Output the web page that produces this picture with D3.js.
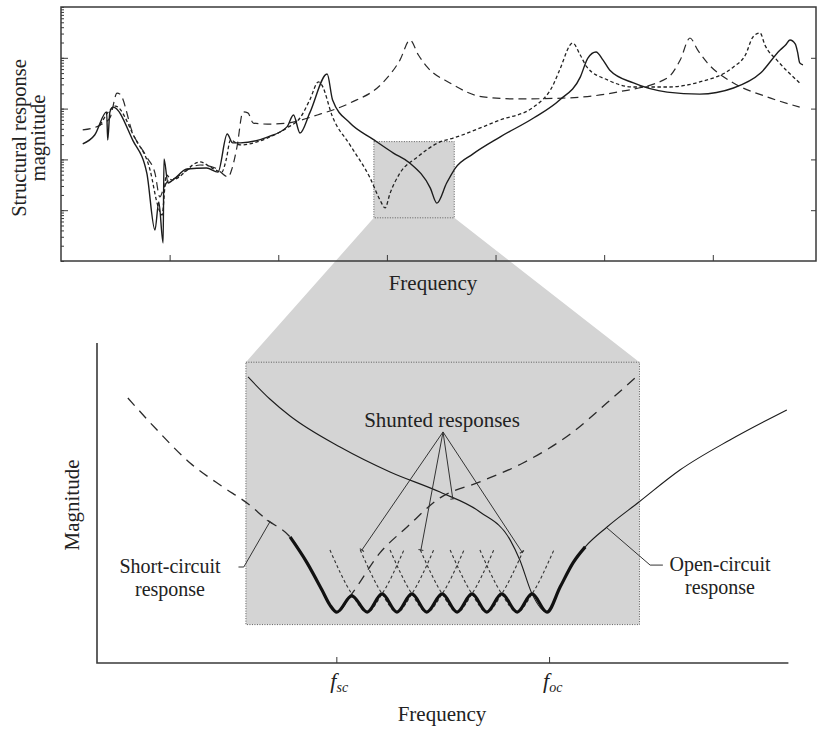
<!DOCTYPE html>
<html>
<head>
<meta charset="utf-8">
<script src="https://cdn.jsdelivr.net/npm/d3@7"></script>
<style>
  body { margin: 0; background: #fff; }
  svg { display: block; font-family: "Liberation Serif", "Times New Roman", serif; }
</style>
</head>
<body>
<svg id="chart" width="817" height="729"></svg>
<script>
// ---- top panel: measured responses, [frequency, magnitude dB] ----
const solidResponse = [
  [0.20,-13.9],[0.31,-10.4],[0.42,-1.3],[0.43,-12.4],[0.45,-1.3],[0.48,0.6],[0.66,-12.4],
  [0.79,-25.4],[0.865,-47.8],[0.90,-36.8],[0.94,-52.9],[0.948,-19.8],[0.985,-29.3],[1.03,-28.1],
  [1.16,-23.8],[1.34,-23.4],[1.445,-25.0],[1.53,-10.0],[1.58,-13.5],[1.65,-13.5],[1.90,-11.2],
  [2.08,-7.2],[2.14,-2.5],[2.20,-9.6],[2.29,-1.7],[2.45,13.6],[2.50,3.4],[2.66,-5.7],
  [2.87,-12.0],[3.06,-17.5],[3.21,-21.4],[3.40,-31.3],[3.46,-37.2],[3.55,-29.3],[3.63,-23.4],
  [3.79,-17.9],[4.04,-11.2],[4.35,-3.7],[4.59,3.4],[4.78,12.4],[4.85,19.9],[4.925,22.3],
  [4.99,19.1],[5.05,15.2],[5.27,10.1],[5.58,6.5],[5.88,5.7],[6.19,8.1],[6.44,14.0],
  [6.62,23.1],[6.67,25.0],[6.71,27.0],[6.76,25.4],[6.78,22.3],[6.80,18.0],[6.83,17.2]
];
const shortDashResponse = [
  [0.36,-6.5],[0.45,-0.6],[0.50,1.0],[0.68,-11.6],[0.82,-24.2],[0.89,-38.0],[0.93,-41.9],
  [0.97,-26.1],[1.02,-28.1],[1.28,-21.0],[1.39,-23.4],[1.48,-25.0],[1.52,-20.2],[1.56,-12.4],
  [1.65,-14.3],[1.90,-11.6],[2.08,-7.6],[2.20,-3.7],[2.29,3.4],[2.37,10.5],[2.40,9.3],
  [2.50,-3.3],[2.66,-14.3],[2.845,-27.3],[2.937,-36.0],[2.983,-39.1],[3.03,-33.2],[3.12,-25.4],
  [3.28,-19.1],[3.49,-13.1],[3.61,-11.6],[4.04,-4.5],[4.35,0.6],[4.53,9.3],[4.59,15.2],
  [4.71,25.8],[4.78,21.1],[4.84,16.4],[5.03,11.3],[5.27,8.5],[5.58,8.5],[5.88,10.5],
  [6.19,16.4],[6.30,21.1],[6.37,28.2],[6.435,29.8],[6.48,25.0],[6.59,19.1],[6.80,10.1]
];
const longDashResponse = [
  [0.20,-8.4],[0.36,-6.5],[0.45,-3.7],[0.516,6.1],[0.543,5.7],[0.66,-9.6],[0.79,-19.1],
  [0.865,-25.4],[0.91,-34.8],[0.94,-32.0],[0.976,-28.9],[1.05,-27.3],[1.28,-22.2],[1.42,-23.4],
  [1.54,-26.9],[1.57,-24.2],[1.62,-15.1],[1.675,-1.3],[1.72,-1.7],[1.77,-5.7],[1.90,-6.1],
  [2.08,-5.7],[2.36,-2.5],[2.66,2.2],[2.96,10.1],[3.12,19.1],[3.213,27.0],[3.29,21.1],
  [3.37,16.4],[3.58,10.1],[3.885,4.6],[4.20,3.8],[4.66,4.2],[5.12,6.5],[5.58,12.0],
  [5.70,19.1],[5.79,27.8],[5.86,23.1],[5.95,18.0],[6.19,10.1],[6.50,4.6],[6.80,0.6]
];
const topFreqTicks = [1, 2, 3, 4, 5, 6];
const topMajorTicks = [1e-2, 1e-1, 1, 10];
const zoomFreq = [2.88, 3.62];
const zoomDb = [-43, -13];

// ---- lower panel: schematic, [frequency, magnitude] ----
const shortCircuitResponse = [
  [2.658,8.28],[2.713,7.28],[2.775,6.25],[2.837,5.5],[2.882,5.0],[2.920,4.47],[2.963,3.94],
  [2.995,3.13],[3.023,2.28],[3.051,1.59],[3.079,2.16],[3.132,3.44],[3.183,4.25],[3.245,5.16],
  [3.320,5.66],[3.401,6.25],[3.495,7.22],[3.559,8.13],[3.612,8.91]
];
const openCircuitResponse = [
  [2.884,8.94],[2.925,8.25],[2.963,7.72],[3.057,6.75],[3.151,5.97],[3.245,5.34],[3.320,4.72],
  [3.377,3.84],[3.395,3.22],[3.418,2.16],[3.446,1.59],[3.471,2.38],[3.495,3.13],[3.518,3.63],
  [3.559,4.25],[3.619,5.03],[3.696,6.03],[3.790,6.97],[3.897,7.91]
];
const shuntedEnvelope = [
  [2.963,3.94],[2.995,3.13],[3.023,2.28],[3.038,1.81],[3.051,1.59],[3.079,2.1],[3.108,1.59],
  [3.136,2.16],[3.164,1.59],[3.192,2.16],[3.220,1.59],[3.249,2.16],[3.277,1.59],[3.305,2.16],
  [3.333,1.59],[3.361,2.16],[3.390,1.59],[3.418,2.16],[3.446,1.59],[3.471,2.38],[3.495,3.13],
  [3.518,3.63]
];
const shuntedResponses = [
  [[3.038,3.53],[3.079,2.16],[3.108,1.59],[3.136,2.16],[3.177,3.53]],
  [[3.095,3.53],[3.136,2.16],[3.164,1.59],[3.192,2.16],[3.233,3.53]],
  [[3.151,3.53],[3.192,2.16],[3.220,1.59],[3.249,2.16],[3.290,3.53]],
  [[3.208,3.53],[3.249,2.16],[3.277,1.59],[3.305,2.16],[3.346,3.53]],
  [[3.264,3.53],[3.305,2.16],[3.333,1.59],[3.361,2.16],[3.402,3.53]],
  [[3.320,3.53],[3.361,2.16],[3.390,1.59],[3.418,2.16],[3.459,3.53]]
];
const lowerTicks = [3.05, 3.45];
const lowerTickLabels = [["f", "sc"], ["f", "oc"]];
const lowerBoxMag = [1.2, 9.4];
// annotation leaders
const shuntedApex = [3.2506, 7.22];
const shuntedTargets = [[3.098,3.53],[3.209,3.53],[3.269,5.13],[3.399,3.47]];
const shortCircuitLeader = [[2.866,3.0],[2.876,3.0],[2.925,4.41]];
const openCircuitLeader = [[3.559,4.22],[3.640,3.06],[3.664,3.06]];

const GRAY = "#d4d4d4", INK = "#1c1c1c", AXIS = "#3a3a3a";
const svg = d3.select("#chart");

// scales
const xTop = d3.scaleLinear().domain([0, 6.95]).range([61, 816]);
const yTop = d3.scaleLinear().domain([-60, 40]).range([261, 7]);
const yTopLog = d3.scaleLog().domain([1e-3, 1e2]).range([261, 7]);
const xLow = d3.scaleLinear().domain([2.6, 3.9]).range([97, 788.4]);
const yLow = d3.scaleLinear().domain([0, 10]).range([663, 343]);

// zoom region (gray)
const tb = { x0: xTop(zoomFreq[0]), x1: xTop(zoomFreq[1]), y0: yTop(zoomDb[1]), y1: yTop(zoomDb[0]) };
const lb = { x0: xLow(zoomFreq[0]), x1: xLow(zoomFreq[1]), y0: yLow(lowerBoxMag[1]), y1: yLow(lowerBoxMag[0]) };
svg.append("path")
  .attr("d", `M${tb.x0},${tb.y0}H${tb.x1}V${tb.y1}L${lb.x1},${lb.y0}V${lb.y1}H${lb.x0}V${lb.y0}L${tb.x0},${tb.y1}Z`)
  .attr("fill", GRAY);
[tb, lb].forEach(b => {
  svg.append("rect")
    .attr("x", b.x0).attr("y", b.y0)
    .attr("width", b.x1 - b.x0).attr("height", b.y1 - b.y0)
    .attr("fill", "none").attr("stroke", "#5a5a5a")
    .attr("stroke-width", 1).attr("stroke-dasharray", "1,1.5");
});

// ---- top panel axes ----
const [tx0, tx1] = xTop.range();
const [ty1, ty0] = yTop.range();
svg.append("rect")
  .attr("x", tx0).attr("y", ty0).attr("width", tx1 - tx0).attr("height", ty1 - ty0)
  .attr("fill", "none").attr("stroke", AXIS).attr("stroke-width", 1.5);

function styleAxis(g) {
  g.select(".domain").remove();
  g.selectAll(".tick line").attr("stroke", AXIS).attr("stroke-width", 1);
  g.selectAll(".tick text").remove();
}
svg.append("g").attr("transform", `translate(${tx0},0)`)
  .call(d3.axisRight(yTopLog).tickValues(yTopLog.ticks()).tickSize(3).tickFormat(""))
  .call(styleAxis);
svg.append("g").attr("transform", `translate(${tx0},0)`)
  .call(d3.axisRight(yTopLog).tickValues(topMajorTicks).tickSize(7).tickFormat(""))
  .call(styleAxis);
svg.append("g").attr("transform", `translate(${tx1},0)`)
  .call(d3.axisLeft(yTopLog).tickValues(topMajorTicks).tickSize(5).tickFormat(""))
  .call(styleAxis);
svg.append("g").attr("transform", `translate(0,${ty1})`)
  .call(d3.axisTop(xTop).tickValues(topFreqTicks).tickSize(6).tickFormat(""))
  .call(styleAxis);

// ---- top panel curves ----
const lineTop = d3.line().x(d => xTop(d[0])).y(d => yTop(d[1])).curve(d3.curveMonotoneX);
svg.append("path").datum(longDashResponse).attr("d", lineTop)
  .attr("fill", "none").attr("stroke", "#2a2a2a").attr("stroke-width", 1.2)
  .attr("stroke-dasharray", "8,5");
svg.append("path").datum(shortDashResponse).attr("d", lineTop)
  .attr("fill", "none").attr("stroke", "#222").attr("stroke-width", 1.3)
  .attr("stroke-dasharray", "3.5,2.5");
svg.append("path").datum(solidResponse).attr("d", lineTop)
  .attr("fill", "none").attr("stroke", INK).attr("stroke-width", 1.4);

// multi-line text as one element
function label(lines, x, y, anchor, size, transform, lead) {
  const t = svg.append("text").attr("text-anchor", anchor)
    .attr("font-size", size).attr("fill", "#222");
  if (transform) t.attr("transform", transform);
  lines.forEach((s, i) => {
    t.append("tspan").attr("x", x).attr(i ? "dy" : "y", i ? (lead || size) : y).text(s);
  });
  return t;
}

// top labels
label(["Structural response", "magnitude"], 0, 0, "middle", 20.5, "translate(26,138) rotate(-90)", 19);
label(["Frequency"], 433, 290, "middle", 21);

// ---- lower panel axes ----
const [lx0, lx1] = xLow.range();
const [ly1, ly0] = yLow.range();
svg.append("path").attr("d", `M${lx0},${ly0}V${ly1}H${lx1}`)
  .attr("fill", "none").attr("stroke", AXIS).attr("stroke-width", 1.6);
svg.append("g").attr("transform", `translate(0,${ly1})`)
  .call(d3.axisTop(xLow).tickValues(lowerTicks).tickSize(6).tickFormat(""))
  .call(styleAxis);

lowerTicks.forEach((t, i) => {
  const lab = svg.append("text").attr("x", xLow(t) - 6).attr("y", 688)
    .attr("font-size", 22).attr("font-style", "italic").attr("fill", "#222");
  lab.append("tspan").text(lowerTickLabels[i][0]);
  lab.append("tspan").attr("dy", 4).attr("font-size", 14).text(lowerTickLabels[i][1]);
});

// ---- lower panel curves ----
const lineLow = d3.line().x(d => xLow(d[0])).y(d => yLow(d[1])).curve(d3.curveMonotoneX);
svg.append("g").selectAll("path").data(shuntedResponses).join("path")
  .attr("d", lineLow).attr("fill", "none").attr("stroke", "#333")
  .attr("stroke-width", 1.1).attr("stroke-dasharray", "3,2.5");
svg.append("path").datum(shortCircuitResponse).attr("d", lineLow)
  .attr("fill", "none").attr("stroke", "#2a2a2a").attr("stroke-width", 1.3)
  .attr("stroke-dasharray", "10,7");
svg.append("path").datum(openCircuitResponse).attr("d", lineLow)
  .attr("fill", "none").attr("stroke", INK).attr("stroke-width", 1.1);
svg.append("path").datum(shuntedEnvelope).attr("d", lineLow)
  .attr("fill", "none").attr("stroke", "#111").attr("stroke-width", 3.2)
  .attr("stroke-linejoin", "round");

// ---- annotations ----
function capAt(p, from, len) {
  const dx = p[0] - from[0], dy = p[1] - from[1];
  const n = Math.hypot(dx, dy) || 1;
  const ux = -dy / n * len / 2, uy = dx / n * len / 2;
  svg.append("line").attr("x1", p[0] - ux).attr("y1", p[1] - uy)
    .attr("x2", p[0] + ux).attr("y2", p[1] + uy)
    .attr("stroke", "#333").attr("stroke-width", 1.1);
}
const ax = xLow(shuntedApex[0]), ay = yLow(shuntedApex[1]);
shuntedTargets.forEach(t => {
  const p = [xLow(t[0]), yLow(t[1])];
  svg.append("line").attr("x1", ax).attr("y1", ay).attr("x2", p[0]).attr("y2", p[1])
    .attr("stroke", "#333").attr("stroke-width", 1);
  capAt(p, [ax, ay], 5);
});
const lineLead = d3.line().x(d => xLow(d[0])).y(d => yLow(d[1]));
svg.append("path").datum(shortCircuitLeader).attr("d", lineLead)
  .attr("fill", "none").attr("stroke", "#333").attr("stroke-width", 1);
{
  const n = shortCircuitLeader.length;
  const p = shortCircuitLeader[n - 1], q = shortCircuitLeader[n - 2];
  capAt([xLow(p[0]), yLow(p[1])], [xLow(q[0]), yLow(q[1])], 7);
}
svg.append("path").datum(openCircuitLeader).attr("d", lineLead)
  .attr("fill", "none").attr("stroke", "#333").attr("stroke-width", 1);

label(["Shunted responses"], 442, 427, "middle", 21);
label(["Short-circuit", "response"], 170, 573, "middle", 20, null, 22.5);
label(["Open-circuit", "response"], 720, 571, "middle", 20, null, 22.5);
label(["Magnitude"], 0, 0, "middle", 21, "translate(79,505) rotate(-90)");
label(["Frequency"], 442, 721, "middle", 21);
</script>
</body>
</html>
